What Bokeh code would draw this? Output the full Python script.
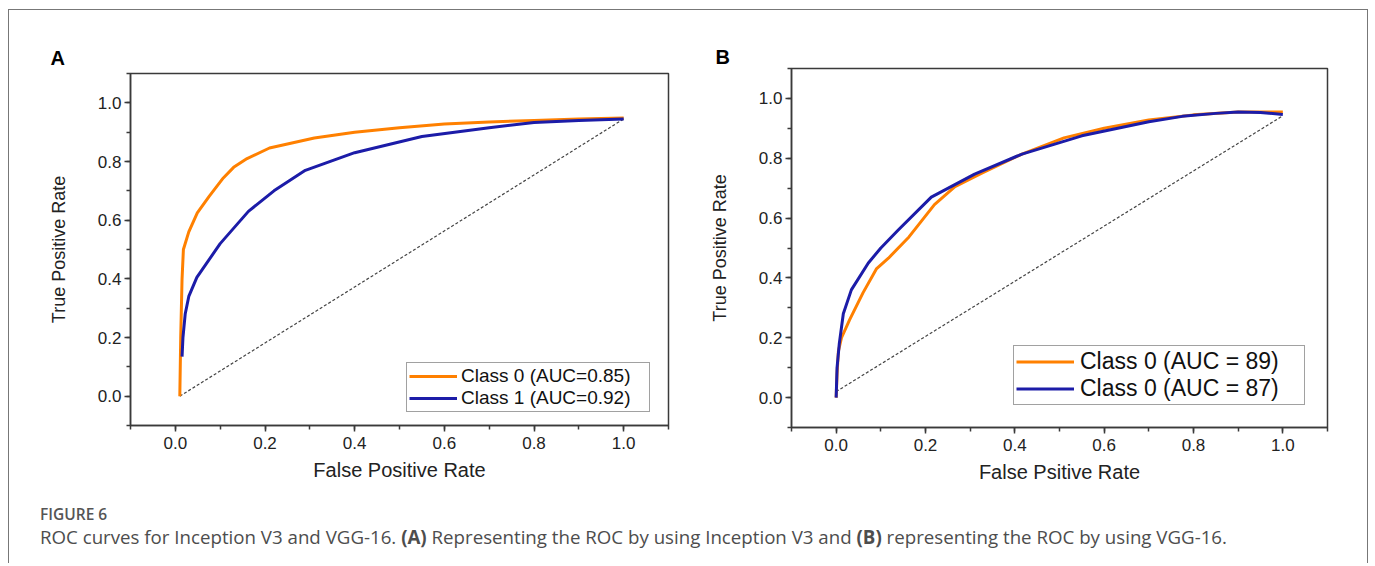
from bokeh.plotting import figure
from bokeh.models import (SingleIntervalTicker, NumeralTickFormatter, Legend,
                          LegendItem, Range1d, Div)
from bokeh.layouts import row, column
from bokeh.embed import file_html
from bokeh.resources import INLINE

# ---------------- data ----------------
a_class0_fpr = [0.01, 0.012, 0.015, 0.018, 0.03, 0.049, 0.075, 0.107, 0.13, 0.16,
                0.21, 0.31, 0.40, 0.50, 0.60, 0.70, 0.80, 0.90, 1.00]
a_class0_tpr = [0.0, 0.20, 0.40, 0.50, 0.56, 0.625, 0.68, 0.744, 0.78, 0.81,
                0.846, 0.88, 0.90, 0.915, 0.928, 0.935, 0.94, 0.945, 0.948]
a_class1_fpr = [0.015, 0.017, 0.022, 0.03, 0.048, 0.10, 0.163, 0.22, 0.29, 0.40,
                0.55, 0.70, 0.80, 0.90, 1.00]
a_class1_tpr = [0.135, 0.20, 0.28, 0.34, 0.405, 0.52, 0.63, 0.70, 0.77, 0.83,
                0.885, 0.915, 0.933, 0.94, 0.945]
a_diag_fpr = [0.01, 1.0]
a_diag_tpr = [0.0, 0.945]
a_labels = ["Class 0 (AUC=0.85)", "Class 1 (AUC=0.92)"]

b_class0_fpr = [0.0, 0.002, 0.005, 0.012, 0.03, 0.06, 0.09, 0.117, 0.163, 0.22,
                0.266, 0.326, 0.416, 0.51, 0.60, 0.70, 0.80, 0.90, 1.00]
b_class0_tpr = [0.0, 0.08, 0.155, 0.20, 0.26, 0.35, 0.43, 0.466, 0.537, 0.645,
                0.705, 0.75, 0.814, 0.868, 0.90, 0.928, 0.945, 0.955, 0.955]
b_class1_fpr = [0.0, 0.002, 0.007, 0.016, 0.034, 0.072, 0.10, 0.139, 0.213, 0.31,
                0.416, 0.55, 0.70, 0.775, 0.85, 0.90, 0.95, 1.00]
b_class1_tpr = [0.0, 0.10, 0.18, 0.28, 0.36, 0.45, 0.50, 0.56, 0.67, 0.747,
                0.814, 0.875, 0.922, 0.94, 0.95, 0.955, 0.953, 0.946]
b_diag_fpr = [0.0, 1.0]
b_diag_tpr = [0.02, 0.942]
b_labels = ["Class 0 (AUC = 89)", "Class 0 (AUC = 87)"]

x_title_a = "False Positive Rate"
x_title_b = "False Psitive Rate"
y_title = "True Positive Rate"

ORANGE = "#FF8000"
BLUE = "#1C1CA8"
FONT = "Liberation Sans"
AXIS_COL = "#3a3a3a"


def make_panel(letter, letter_offset, letter_standoff, xs0, ys0, xs1, ys1, dx, dy,
               labels, xtitle, w, h, mb_left, mb_right, mb_top, mb_bottom,
               leg_loc, leg_font, leg_glyph_w, leg_label_w, leg_label_h, leg_standoff,
               leg_pad):
    p = figure(width=w, height=h,
               min_border_left=mb_left, min_border_right=mb_right,
               min_border_top=mb_top, min_border_bottom=mb_bottom,
               x_range=Range1d(-0.1, 1.1), y_range=Range1d(-0.1, 1.1),
               output_backend="svg", toolbar_location=None)
    p.grid.visible = False
    p.outline_line_color = AXIS_COL
    p.outline_line_width = 1.5
    p.background_fill_color = "white"
    p.border_fill_color = "white"

    p.title.text = letter
    p.title.align = "left"
    p.title.offset = letter_offset
    p.title.text_font = FONT
    p.title.text_font_style = "bold"
    p.title.text_font_size = "20px"
    p.title.text_color = "black"
    p.title.standoff = letter_standoff

    for ax in (p.xaxis[0], p.yaxis[0]):
        ax.ticker = SingleIntervalTicker(interval=0.2, num_minor_ticks=2)
        ax.formatter = NumeralTickFormatter(format="0.0")
        ax.axis_line_color = AXIS_COL
        ax.axis_line_width = 1.5
        ax.major_tick_line_color = AXIS_COL
        ax.minor_tick_line_color = AXIS_COL
        ax.major_tick_line_width = 1.5
        ax.minor_tick_line_width = 1.5
        ax.major_tick_in = 0
        ax.major_tick_out = 6
        ax.minor_tick_in = 0
        ax.minor_tick_out = 4
        ax.major_label_text_font = FONT
        ax.major_label_text_font_size = "17px"
        ax.major_label_text_color = "#222222"
        ax.axis_label_text_font = FONT
        ax.axis_label_text_font_style = "normal"
        ax.axis_label_text_color = "#222222"

    p.xaxis.axis_label = xtitle
    p.xaxis.axis_label_text_font_size = "20px"
    p.xaxis.major_label_standoff = 5
    p.xaxis.axis_label_standoff = 7
    p.yaxis.axis_label = y_title
    p.yaxis.axis_label_text_font_size = "18px"
    p.yaxis.major_label_standoff = 3
    p.yaxis.axis_label_standoff = 26

    p.line(dx, dy, line_color="#444444", line_width=1.2, line_dash="3 2")
    r0 = p.line(xs0, ys0, line_color=ORANGE, line_width=3, line_join="round")
    r1 = p.line(xs1, ys1, line_color=BLUE, line_width=3, line_join="round")

    legend = Legend(items=[LegendItem(label=labels[0], renderers=[r0]),
                           LegendItem(label=labels[1], renderers=[r1])],
                    location=leg_loc,
                    label_text_font=FONT, label_text_font_size=leg_font,
                    label_text_color="#111111",
                    glyph_width=leg_glyph_w, glyph_height=leg_label_h,
                    label_width=leg_label_w, label_height=leg_label_h,
                    label_standoff=leg_standoff, padding=leg_pad, spacing=0, margin=0,
                    border_line_color="#444444", border_line_width=1.2,
                    background_fill_color="white", background_fill_alpha=1.0)
    p.add_layout(legend)
    return p


figA = make_panel("A", -80, 9, a_class0_fpr, a_class0_tpr, a_class1_fpr, a_class1_tpr,
                  a_diag_fpr, a_diag_tpr, a_labels, x_title_a,
                  w=691, h=483, mb_left=121, mb_right=32, mb_top=63, mb_bottom=68,
                  leg_loc=(276, 13), leg_font="19px", leg_glyph_w=48,
                  leg_label_w=186, leg_label_h=20, leg_standoff=4, leg_pad=2)

figB = make_panel("B", -76, 2, b_class0_fpr, b_class0_tpr, b_class1_fpr, b_class1_tpr,
                  b_diag_fpr, b_diag_tpr, b_labels, x_title_b,
                  w=667, h=483, mb_left=91, mb_right=40, mb_top=58, mb_bottom=66,
                  leg_loc=(222, 22), leg_font="23px", leg_glyph_w=58,
                  leg_label_w=222, leg_label_h=25, leg_standoff=6, leg_pad=2)

caption_title = "FIGURE 6"
caption_text = ('ROC curves for Inception V3 and VGG-16. <b>(A)</b> Representing the ROC by using '
                'Inception V3 and <b>(B)</b> representing the ROC by using VGG-16.')

cap = Div(width=1358, height=70, margin=0, text=(
    '<div style="font-family:\'Open Sans\',sans-serif;color:#555;padding:12px 0 0 31px;">'
    '<div style="font-size:15.5px;font-weight:600;line-height:18px;color:#555;">' + caption_title + '</div>'
    '<div style="font-size:18.7px;line-height:26px;margin-top:1px;color:#4d4d4d;white-space:nowrap;">'
    + caption_text + '</div></div>'))

panels = row(column(figA, margin=0), column(figB, margin=0), margin=0)
layout = column(panels, cap, margin=(9, 0, 0, 8),
                styles={"border-top": "1px solid #777", "border-left": "1px solid #777",
                        "border-right": "1px solid #777"})

open("out.html", "w").write(file_html(layout, INLINE))
